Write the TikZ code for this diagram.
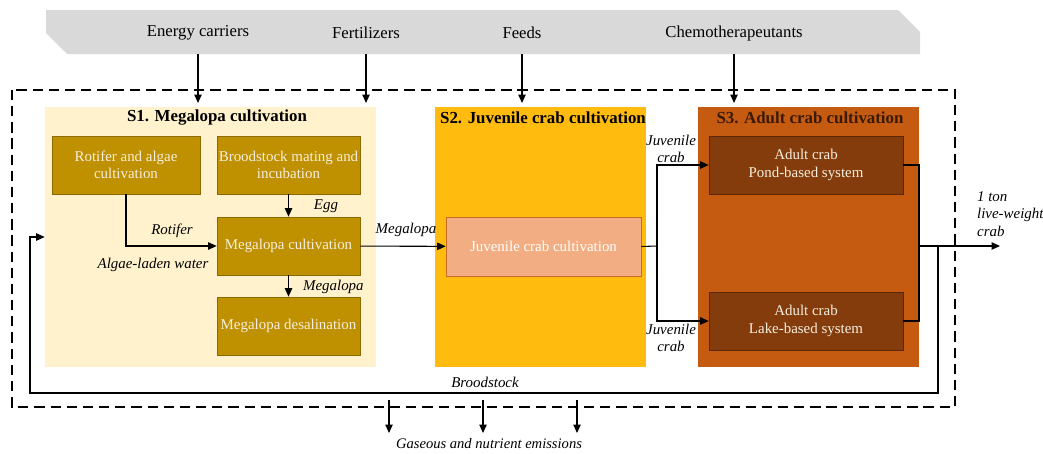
\documentclass[tikz,border=0pt]{standalone}
\usepackage{fontspec}
\setmainfont{Liberation Serif}
\usetikzlibrary{arrows.meta}
\definecolor{crbanner}{HTML}{D9D9D9}
\definecolor{crsone}{HTML}{FFF2CC}
\definecolor{crstwo}{HTML}{FFBC0F}
\definecolor{crsthree}{HTML}{C55A11}
\definecolor{crgold}{HTML}{BF9000}
\definecolor{crgoldline}{HTML}{8C6A00}
\definecolor{crjuv}{HTML}{F2AE82}
\definecolor{crbrown}{HTML}{843C0C}
\definecolor{crbrownline}{HTML}{5A2806}
\definecolor{crtext}{HTML}{F6EFDF}
\definecolor{crtitle}{HTML}{3A1A04}

\begin{document}
\begin{tikzpicture}[x=0.02cm, y=-0.02cm,
            stage/.style={inner sep=0pt, minimum height=5.2cm},
            title/.style={font=\fontsize{9.6}{11}\selectfont\bfseries},
            proc/.style={draw=crgoldline, fill=crgold, text=crtext, align=center, minimum width=2.86cm, minimum height=1.16cm, inner sep=1pt, font=\fontsize{8.5}{9.8}\selectfont},
            adult/.style={proc, draw=crbrownline, fill=crbrown, minimum width=3.88cm},
            input/.style={font=\fontsize{9.5}{11}\selectfont},
            lab/.style={font=\fontsize{8.5}{9.8}\selectfont\itshape, inner sep=1pt},
            arrow/.style={-{Triangle[length=4.8pt, width=4.2pt]}, line width=0.6pt}
        ]
            \useasboundingbox (0,0) rectangle (1043,453);

            % Input banner
            \fill[crbanner] (46,10) -- (898,10) -- (920,32) -- (920,54) -- (67,54) -- (46,33) -- cycle;
            \coordinate (inbot) at (0,54);
            \coordinate (intip) at (0,103);
            \node[input] (energy) at (198,33) {Energy carriers};
            \node[input] (fert) at (366,33) {Fertilizers};
            \node[input] (feeds) at (522,33) {Feeds};
            \node[input] (chemo) at (734,33) {Chemotherapeutants};

            % System boundary
            \draw[line width=0.9pt, dash pattern=on 5.8pt off 3.4pt] (12,90) rectangle (955,407);

            % Stages
            \node[stage, fill=crsone, minimum width=6.62cm] (s1) at (210.5,237) {};
            \node[stage, fill=crstwo, minimum width=4.22cm] (s2) at (540.5,237) {};
            \node[stage, fill=crsthree, minimum width=4.42cm] (s3) at (808.5,237) {};
            \node[title] (t1) at (217,118) {S1. Megalopa cultivation};
            \node[title] (t2) at (543,118) {S2. Juvenile crab cultivation};
            \node[title, text=crtitle] (t3) at (810,118) {S3. Adult crab cultivation};

            % Inputs
            \draw[arrow] (energy |- inbot) -- (energy |- intip);
            \draw[arrow] (fert |- inbot) -- (fert |- intip);
            \draw[arrow] (feeds |- inbot) -- (feeds |- intip);
            \draw[arrow] (chemo |- inbot) -- (chemo |- intip);

            % S1 processes
            \node[proc, minimum width=2.96cm] (rot) at (126,165) {Rotifer and algae\\cultivation};
            \node[proc] (brood) at (288.5,165) {Broodstock mating and\\incubation};
            \node[proc] (megcult) at (288.5,246) {Megalopa cultivation};
            \node[proc] (desal) at (288.5,326) {Megalopa desalination};

            % S2 and S3 processes
            \node[proc, draw=crsthree!90, fill=crjuv, text=white, minimum width=3.9cm, minimum height=1.18cm] (juv) at (543.5,246.5) {Juvenile crab cultivation};
            \node[adult] (pond) at (806,165) {Adult crab\\Pond-based system};
            \node[adult] (lake) at (806,321) {Adult crab\\Lake-based system};

            % Flows in S1
            \draw[arrow] (rot.south) |- (megcult.west);
            \draw[arrow] (brood) -- (megcult);
            \draw[arrow] (megcult) -- (desal);
            \node[lab] at (172,231) {Rotifer};
            \node[lab] at (153,265) {Algae-laden water};
            \node[lab] at (326,206) {Egg};
            \node[lab, anchor=west] at (301,287) {Megalopa};

            % Megalopa to juvenile stage
            \draw[arrow] (megcult) -- (juv);
            \node[lab] at (406,230) {Megalopa};

            % Juvenile to adult systems
            \coordinate (jsplit) at (657,246);
            \draw[line width=0.6pt] (juv.east) -- (jsplit);
            \draw[arrow] (jsplit) |- (pond.west);
            \draw[arrow] (jsplit) |- (lake.west);
            \node[lab, align=center] at (671,149) {Juvenile\\crab};
            \node[lab, align=center] at (671,338) {Juvenile\\crab};

            % Product output
            \coordinate (osplit) at (919,246);
            \coordinate (out) at (1000,246);
            \draw[line width=0.6pt] (pond.east) -| (osplit);
            \draw[line width=0.6pt] (lake.east) -| (osplit);
            \draw[arrow] (osplit) -- (out);
            \node[lab, align=left, anchor=west] at (975,214) {1 ton\\live-weight\\crab};

            % Broodstock return
            \coordinate (fb) at (938,246);
            \coordinate (fbl) at (30,393);
            \draw[arrow] (fb) |- (fbl) |- (s1.west);
            \node[lab] at (485,382) {Broodstock};

            % Emissions
            \node[lab, font=\fontsize{8.3}{10}\selectfont\itshape] (emis) at (489,444) {Gaseous and nutrient emissions};
            \coordinate (e1) at (389,400);
            \coordinate (e2) at (483,400);
            \coordinate (e3) at (577,400);
            \draw[arrow] (e1) -- ++(0,33);
            \draw[arrow] (e2) -- ++(0,33);
            \draw[arrow] (e3) -- ++(0,33);
        \end{tikzpicture}
\end{document}
